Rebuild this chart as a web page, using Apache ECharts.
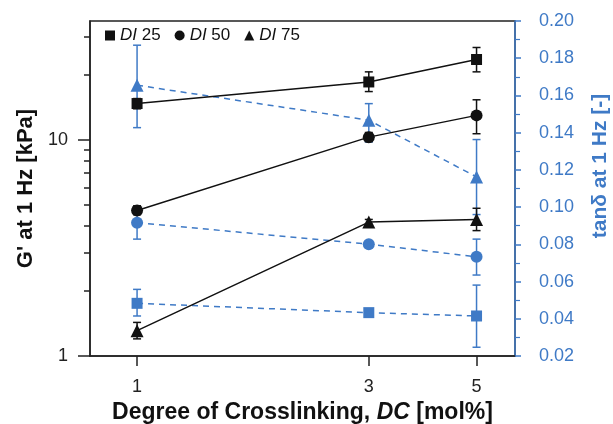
<!DOCTYPE html>
<html>
<head>
<meta charset="utf-8">
<script src="https://cdn.jsdelivr.net/npm/echarts@6/dist/echarts.min.js"></script>
<style>
  html, body { margin: 0; padding: 0; background: #fff; }
  #chart { width: 613px; height: 424px; }
</style>
</head>
<body>
<div id="chart"></div>
<script>
// 交联度
var dcValues = [1, 3, 5];
// G' (kPa), 黑色实线
var g25 = [14.7, 18.5, 23.5];
var g25Lo = [13.9, 16.7, 20.6];
var g25Hi = [15.5, 20.6, 26.7];
var g50 = [4.71, 10.28, 12.96];
var g50Lo = [4.5, 9.8, 10.66];
var g50Hi = [4.95, 10.8, 15.3];
var g75 = [1.31, 4.16, 4.28];
var g75Lo = [1.2, 4.05, 3.8];
var g75Hi = [1.43, 4.28, 4.82];
// tanδ, 蓝色虚线
var t25 = [0.0483, 0.0433, 0.0415];
var t25Lo = [0.0415, 0.042, 0.0247];
var t25Hi = [0.0558, 0.0446, 0.0581];
var t50 = [0.0916, 0.0801, 0.0733];
var t50Lo = [0.0828, 0.079, 0.0635];
var t50Hi = [0.0993, 0.0812, 0.0828];
var t75 = [0.1655, 0.1467, 0.1162];
var t75Lo = [0.1427, 0.135, 0.096];
var t75Hi = [0.187, 0.1556, 0.1363];
// 刻度
var xTicks = [1, 3, 5];
var gMajor = [1, 10];
var gMinor = [2, 3, 4, 5, 6, 7, 8, 9, 20, 30];

var blue = '#3f7ac6';
var font = 'Liberation Sans';

function pts(ys) {
    return dcValues.map(function (x, i) { return [x, ys[i]]; });
}
function bars(lo, hi) {
    return dcValues.map(function (x, i) { return [x, lo[i], hi[i]]; });
}
function errorSeries(lo, hi, axis, color) {
    return {
        type: 'custom',
        xAxisIndex: 0,
        yAxisIndex: axis,
        silent: true,
        data: bars(lo, hi),
        z: 1,
        renderItem: function (params, api) {
            var a = api.coord([api.value(0), api.value(1)]);
            var b = api.coord([api.value(0), api.value(2)]);
            var w = 4;
            var st = { stroke: color, lineWidth: 1.5 };
            return {
                type: 'group',
                children: [
                    { type: 'line', shape: { x1: a[0], y1: a[1], x2: b[0], y2: b[1] }, style: st },
                    { type: 'line', shape: { x1: a[0] - w, y1: a[1], x2: a[0] + w, y2: a[1] }, style: st },
                    { type: 'line', shape: { x1: b[0] - w, y1: b[1], x2: b[0] + w, y2: b[1] }, style: st }
                ]
            };
        }
    };
}
function lineSeries(name, ys, axis, color, symbol, size, dashed) {
    return {
        name: name,
        type: 'line',
        xAxisIndex: 0,
        yAxisIndex: axis,
        data: pts(ys),
        symbol: symbol,
        symbolSize: size,
        z: dashed ? 2 : 3,
        itemStyle: { color: color },
        lineStyle: { color: color, width: 1.5, type: dashed ? [6, 5] : 'solid' }
    };
}

var chart = echarts.init(document.getElementById('chart'));
var option = {
    animation: false,
    textStyle: { fontFamily: font },
    grid: {
        left: 90, right: 98, top: 21, bottom: 68,
        outerBoundsMode: 'none',
        containLabel: false,
        show: true, borderColor: '#222', borderWidth: 1.5, backgroundColor: '#fff'
    },
    legend: {
        left: 100, top: 22,
        itemWidth: 10, itemHeight: 10, itemGap: 14,
        data: [
            { name: 'DI 25', icon: 'rect' },
            { name: 'DI 50', icon: 'circle' },
            { name: 'DI 75', icon: 'triangle' }
        ],
        formatter: function (name) {
            return '{it|DI} ' + name.split(' ')[1];
        },
        textStyle: {
            color: '#111', fontSize: 17, fontFamily: font,
            rich: { it: { fontStyle: 'italic', fontSize: 17, fontFamily: font, color: '#111' } }
        }
    },
    xAxis: [{
        type: 'log',
        logBase: 10,
        min: 0.8,
        max: 6,
        name: 'Degree of Crosslinking, {it|DC} [mol%]',
        nameLocation: 'middle',
        nameGap: 40,
        nameTextStyle: {
            fontSize: 23, fontWeight: 'bold', color: '#111', fontFamily: font,
            rich: { it: { fontSize: 23, fontWeight: 'bold', fontStyle: 'italic', color: '#111', fontFamily: font } }
        },
        axisLine: { lineStyle: { color: '#222', width: 1.5 } },
        axisTick: { customValues: xTicks, length: 10, lineStyle: { color: '#222', width: 1.5 } },
        axisLabel: { customValues: xTicks, fontSize: 18, color: '#222', margin: 22, fontFamily: font },
        splitLine: { show: false },
        minorTick: { show: false }
    }],
    yAxis: [{
        type: 'log',
        logBase: 10,
        min: 1,
        max: 35.4,
        position: 'left',
        name: "G' at 1 Hz [kPa]",
        nameLocation: 'middle',
        nameGap: 53,
        nameTextStyle: { fontSize: 22, fontWeight: 'bold', color: '#111', fontFamily: font },
        axisLine: { lineStyle: { color: '#222', width: 1.5 } },
        axisTick: { customValues: gMajor, length: 12, lineStyle: { color: '#222', width: 1.5 } },
        axisLabel: { customValues: gMajor, fontSize: 18, color: '#222', margin: 22, fontFamily: font },
        splitLine: { show: false }
    }, {
        type: 'value',
        min: 0.02,
        max: 0.2,
        interval: 0.02,
        position: 'right',
        axisLine: { show: true, lineStyle: { color: blue, width: 1.5 } },
        axisTick: { show: true, length: 6, lineStyle: { color: blue, width: 1.5 } },
        minorTick: { show: true, splitNumber: 2, length: 5, lineStyle: { color: blue, width: 1.2 } },
        axisLabel: {
            fontSize: 18, color: blue, margin: 24, fontFamily: font,
            formatter: function (v) { return v.toFixed(2); }
        },
        splitLine: { show: false }
    }, {
        type: 'log',
        logBase: 10,
        min: 1,
        max: 35.4,
        position: 'left',
        axisLine: { show: false },
        axisTick: { customValues: gMinor, length: 6, lineStyle: { color: '#222', width: 1.5 } },
        axisLabel: { show: false },
        splitLine: { show: false }
    }],
    graphic: [{
        type: 'text',
        x: 600, y: 166,
        rotation: Math.PI / 2,
        style: {
            text: 'tanδ at 1 Hz [-]',
            fill: blue,
            font: 'bold 21px "Liberation Sans"',
            align: 'center',
            verticalAlign: 'middle'
        }
    }],
    series: [
        errorSeries(t25Lo, t25Hi, 1, blue),
        errorSeries(t50Lo, t50Hi, 1, blue),
        errorSeries(t75Lo, t75Hi, 1, blue),
        lineSeries('tan DI 25', t25, 1, blue, 'rect', 11, true),
        lineSeries('tan DI 50', t50, 1, blue, 'circle', 12, true),
        lineSeries('tan DI 75', t75, 1, blue, 'triangle', 13, true),
        errorSeries(g25Lo, g25Hi, 0, '#111'),
        errorSeries(g50Lo, g50Hi, 0, '#111'),
        errorSeries(g75Lo, g75Hi, 0, '#111'),
        lineSeries('DI 25', g25, 0, '#111', 'rect', 11, false),
        lineSeries('DI 50', g50, 0, '#111', 'circle', 12, false),
        lineSeries('DI 75', g75, 0, '#111', 'triangle', 13, false)
    ]
};
chart.setOption(option);
</script>
</body>
</html>
